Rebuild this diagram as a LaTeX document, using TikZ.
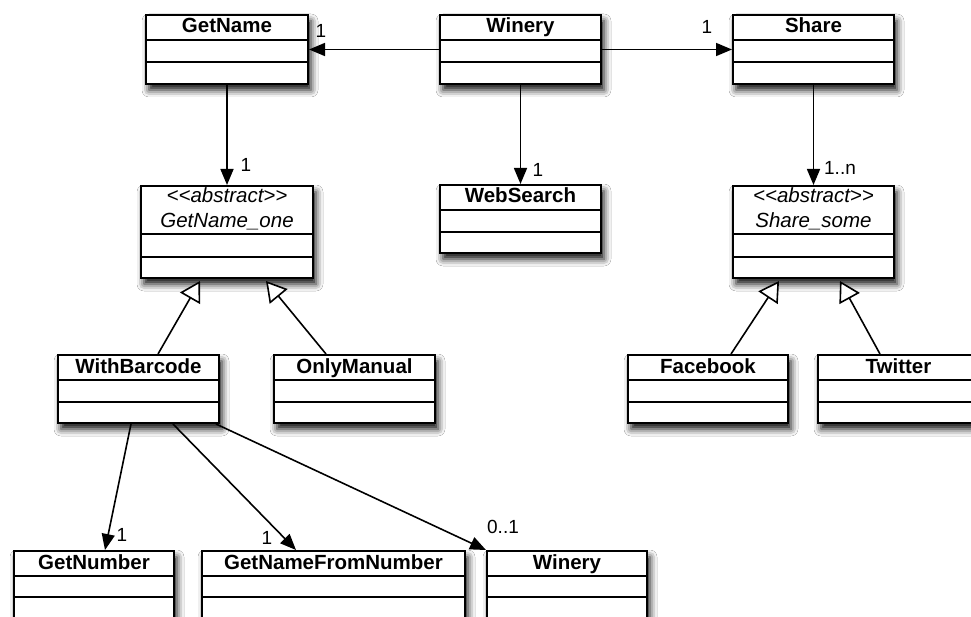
\documentclass[tikz,border=0pt]{standalone}
\usepackage{fontspec}
\setmainfont{Liberation Sans}
\usetikzlibrary{arrows.meta,shadows.blur}

\tikzset{
  classbox/.style={draw=black, line width=2pt, fill=white, anchor=north west,
    inner sep=0pt, minimum width=161pt, minimum height=68pt,
    blur shadow={shadow xshift=3pt, shadow yshift=-6pt,
      shadow blur radius=7pt, shadow opacity=95}},
  abstractbox/.style={classbox, minimum height=92pt},
  classname/.style={font=\fontsize{20.5}{24}\selectfont\bfseries, anchor=base, inner sep=0pt},
  stereotype/.style={font=\fontsize{20.5}{24}\selectfont\itshape, anchor=base, inner sep=0pt},
  rule/.style={line width=2pt},
  assoc/.style={line width=1.6pt, -{Triangle[length=16pt,width=13pt]}},
  generalize/.style={line width=1.6pt, -{Triangle[open,length=20pt,width=23pt,fill=white]}},
  mult/.style={font=\fontsize{19}{22}\selectfont, inner sep=0pt},
}

% two compartment rules below the title of a class box
\newcommand\classrules[3]{%
  \draw[rule] ([yshift=-#2pt]#1.north west) -- ([yshift=-#2pt]#1.north east);
  \draw[rule] ([yshift=-#3pt]#1.north west) -- ([yshift=-#3pt]#1.north east);}

\begin{document}
\begin{tikzpicture}[x=1pt, y=-1pt]
\useasboundingbox (0,0) rectangle (971,617);
\fill[white] (0,0) rectangle (971,617);
\clip (0,0) rectangle (971,617);

% top row
\node[classbox, minimum width=162pt, minimum height=69pt] (getname) at (145,14) {};
\node[classname] (getnameT) at ([yshift=-19pt]getname.north) {GetName};
\classrules{getname}{26}{48}

\node[classbox, minimum height=69pt] (winery) at (439,14) {};
\node[classname] (wineryT) at ([yshift=-19pt]winery.north) {Winery};
\classrules{winery}{26}{48}

\node[classbox, minimum height=69pt] (share) at (732,14) {};
\node[classname] (shareT) at ([yshift=-19pt]share.north) {Share};
\classrules{share}{26}{48}

% second row
\node[abstractbox, minimum width=172pt] (getnameone) at (140,185) {};
\node[stereotype] (getnameoneS) at ([yshift=-18pt]getnameone.north) {<{}<abstract>{}>};
\node[stereotype] (getnameoneT) at ([yshift=-43pt]getnameone.north) {GetName\_one};
\classrules{getnameone}{49}{72}

\node[classbox] (websearch) at (439,184) {};
\node[classname] (websearchT) at ([yshift=-19pt]websearch.north) {WebSearch};
\classrules{websearch}{26}{48}

\node[abstractbox] (sharesome) at (732,185) {};
\node[stereotype] (sharesomeS) at ([yshift=-18pt]sharesome.north) {<{}<abstract>{}>};
\node[stereotype] (sharesomeT) at ([yshift=-43pt]sharesome.north) {Share\_some};
\classrules{sharesome}{49}{72}

% third row
\node[classbox] (withbarcode) at (57,354) {};
\node[classname] (withbarcodeT) at ([yshift=-19pt]withbarcode.north) {WithBarcode};
\classrules{withbarcode}{26}{48}

\node[classbox] (onlymanual) at (273,354) {};
\node[classname] (onlymanualT) at ([yshift=-19pt]onlymanual.north) {OnlyManual};
\classrules{onlymanual}{26}{48}

\node[classbox, minimum width=160pt] (facebook) at (627,354) {};
\node[classname] (facebookT) at ([yshift=-19pt]facebook.north) {Facebook};
\classrules{facebook}{26}{48}

\node[classbox] (twitter) at (817,354) {};
\node[classname] (twitterT) at ([yshift=-19pt]twitter.north) {Twitter};
\classrules{twitter}{26}{48}

% bottom row
\node[classbox, minimum width=160pt] (getnumber) at (13,550) {};
\node[classname] (getnumberT) at ([yshift=-19pt]getnumber.north) {GetNumber};
\classrules{getnumber}{26}{47}

\node[classbox, minimum width=263pt] (fromnumber) at (201,550) {};
\node[classname] (fromnumberT) at ([yshift=-19pt]fromnumber.north) {GetNameFromNumber};
\classrules{fromnumber}{26}{47}

\node[classbox, minimum width=160pt] (winerytwo) at (486,550) {};
\node[classname] (winerytwoT) at ([yshift=-19pt]winerytwo.north) {Winery};
\classrules{winerytwo}{26}{47}

% associations
\draw[assoc] (winery.west) -- (getname.east);
\draw[assoc] (winery.east) -- (share.west);
\draw[assoc] (getname.south) -- (getnameone.north);
\draw[assoc] (winery.south) -- (websearch.north);
\draw[assoc] (share.south) -- (sharesome.north);
\draw[assoc] ([xshift=-7.5pt]withbarcode.south) -- ([xshift=11pt]getnumber.north);
\draw[assoc] ([xshift=34.5pt]withbarcode.south) -- ([xshift=-37.5pt]fromnumber.north);
\draw[assoc] ([xshift=77.5pt]withbarcode.south) -- (winerytwo.north west);

% generalizations
\draw[generalize] ([xshift=19.5pt]withbarcode.north) -- ([xshift=-27pt,yshift=-2pt]getnameone.south);
\draw[generalize] ([xshift=-28.5pt]onlymanual.north) -- ([xshift=39pt,yshift=-2pt]getnameone.south);
\draw[generalize] ([xshift=23pt]facebook.north) -- ([xshift=-34.5pt,yshift=-2pt]sharesome.south);
\draw[generalize] ([xshift=-18.5pt]twitter.north) -- ([xshift=26.5pt,yshift=-2pt]sharesome.south);

% multiplicities
\node[mult] (mA) at (321,31) {1};
\node[mult] (mB) at (707,27) {1};
\node[mult] (mC) at (246,165) {1};
\node[mult] (mD) at (538,170) {1};
\node[mult] (mE) at (840,168) {1..n};
\node[mult] (mF) at (122,535) {1};
\node[mult] (mG) at (267,538) {1};
\node[mult] (mH) at (503,527) {0..1};
\end{tikzpicture}
\end{document}
